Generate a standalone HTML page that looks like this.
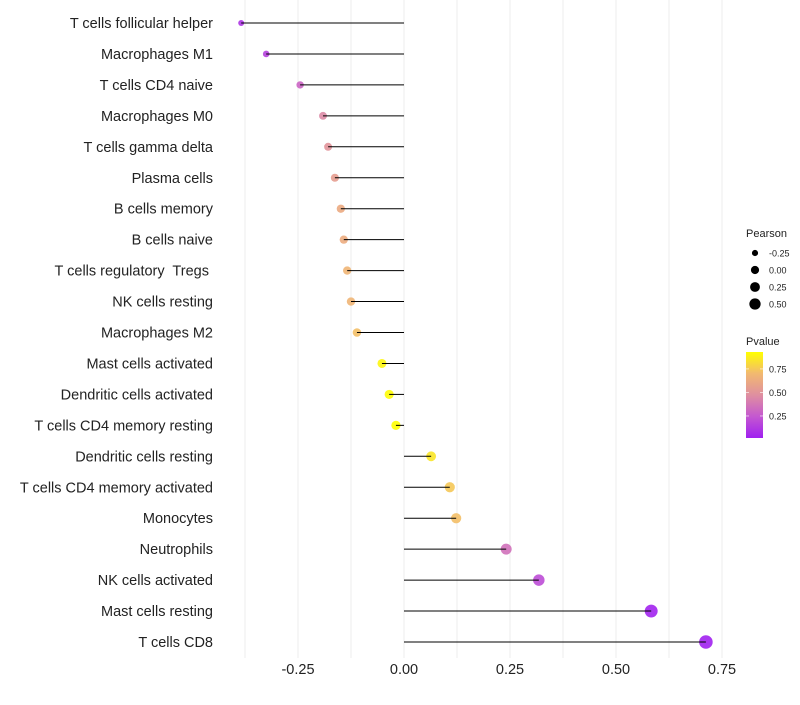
<!DOCTYPE html>
<html><head><meta charset="utf-8"><style>
body{margin:0;background:#fff}
svg text{font-family:"Liberation Sans",sans-serif;white-space:pre}
</style></head><body>
<svg id="c" width="800" height="700" xmlns="http://www.w3.org/2000/svg"></svg>
<script>
const categories=["T cells follicular helper","Macrophages M1","T cells CD4 naive","Macrophages M0","T cells gamma delta","Plasma cells","B cells memory","B cells naive","T cells regulatory  Tregs ","NK cells resting","Macrophages M2","Mast cells activated","Dendritic cells activated","T cells CD4 memory resting","Dendritic cells resting","T cells CD4 memory activated","Monocytes","Neutrophils","NK cells activated","Mast cells resting","T cells CD8"];
const pearson=[-0.384,-0.325,-0.245,-0.191,-0.179,-0.163,-0.149,-0.142,-0.134,-0.125,-0.111,-0.052,-0.035,-0.019,0.064,0.108,0.123,0.241,0.318,0.583,0.712];
const pvalue=[0.1,0.15,0.3,0.45,0.5,0.55,0.62,0.63,0.68,0.68,0.72,0.9,0.92,0.93,0.85,0.75,0.72,0.35,0.2,0.03,0.02];
const xTicks=[-0.25,0,0.25,0.5,0.75];
const xTickLabels=["-0.25","0.00","0.25","0.50","0.75"];
const sizeLegend=[-0.25,0,0.25,0.5];
const sizeLegendLabels=["-0.25","0.00","0.25","0.50"];
const colorTicks=[0.25,0.5,0.75];

const NS="http://www.w3.org/2000/svg";
const svg=document.getElementById('c');
const x=v=>404+v*424;
const y=i=>23+i*30.95;
const r=v=>Math.sqrt(Math.max(3,22+34*v));
const pMin=0.016,pMax=0.93;
const stops=[[0,[160,32,240]],[0.25,[196,88,208]],[0.5,[223,143,160]],[0.75,[242,185,112]],[1,[255,255,0]]];
function col(p){let t=(p-pMin)/(pMax-pMin);t=Math.max(0,Math.min(1,t));
 for(let k=0;k<stops.length-1;k++){const a=stops[k],b=stops[k+1];if(t<=b[0]){const f=(t-a[0])/(b[0]-a[0]);return 'rgb('+a[1].map((c,j)=>Math.round(c+(b[1][j]-c)*f)).join(',')+')';}}
 return 'rgb(255,255,0)';}
function mk(tag,at,parent){const e=document.createElementNS(NS,tag);for(const k in at)e.setAttribute(k,at[k]);(parent||svg).appendChild(e);return e;}
for(let v=-0.375;v<=0.76;v+=0.125){const g=mk('line',{x1:x(v),x2:x(v),y1:0,y2:658,stroke:'#eeeeee','stroke-width':1});

}
xTicks.forEach((v,i)=>{const t=mk('text',{x:x(v),y:674,'text-anchor':'middle','font-size':14.5,fill:'#222'});t.textContent=xTickLabels[i];

});
categories.forEach((c,i)=>{
 const t=mk('text',{x:213,y:y(i)+5,'text-anchor':'end','font-size':14.5,fill:'#222'});t.textContent=c;
 
 
 const d=mk('circle',{cx:x(pearson[i]),cy:y(i),r:r(pearson[i]),fill:col(pvalue[i]),'fill-opacity':0.9});
 
 
 const l=mk('line',{x1:x(0),x2:x(pearson[i]),y1:y(i),y2:y(i),stroke:'#000','stroke-width':1});
 
 
});
let t=mk('text',{x:746,y:237,'font-size':11,fill:'#222'});t.textContent='Pearson';


sizeLegend.forEach((v,i)=>{const cy=253+i*17;
 const c=mk('circle',{cx:755,cy:cy,r:r(v)-0.6,fill:'#000'});
 
 
 const tt=mk('text',{x:769,y:cy+3.5,'font-size':9,fill:'#222'});tt.textContent=sizeLegendLabels[i];
 
 });
t=mk('text',{x:746,y:345,'font-size':11,fill:'#222'});t.textContent='Pvalue';


const defs=mk('defs',{});const lg=mk('linearGradient',{id:'g',x1:0,y1:1,x2:0,y2:0},defs);
stops.forEach(s=>mk('stop',{offset:s[0],'stop-color':'rgb('+s[1].join(',')+')'},lg));
const cb=mk('rect',{x:746,y:352,width:17,height:86,fill:'url(#g)'});


const cy=p=>438-(p-pMin)/(pMax-pMin)*86;
colorTicks.forEach(p=>{const tt=mk('text',{x:769,y:cy(p)+3.5,'font-size':9,fill:'#222'});tt.textContent=p.toFixed(2);
 
 
 mk('line',{x1:746,x2:749,y1:cy(p),y2:cy(p),stroke:'#fff','stroke-width':0.6});
 mk('line',{x1:760,x2:763,y1:cy(p),y2:cy(p),stroke:'#fff','stroke-width':0.6});});
</script>
</body></html>
